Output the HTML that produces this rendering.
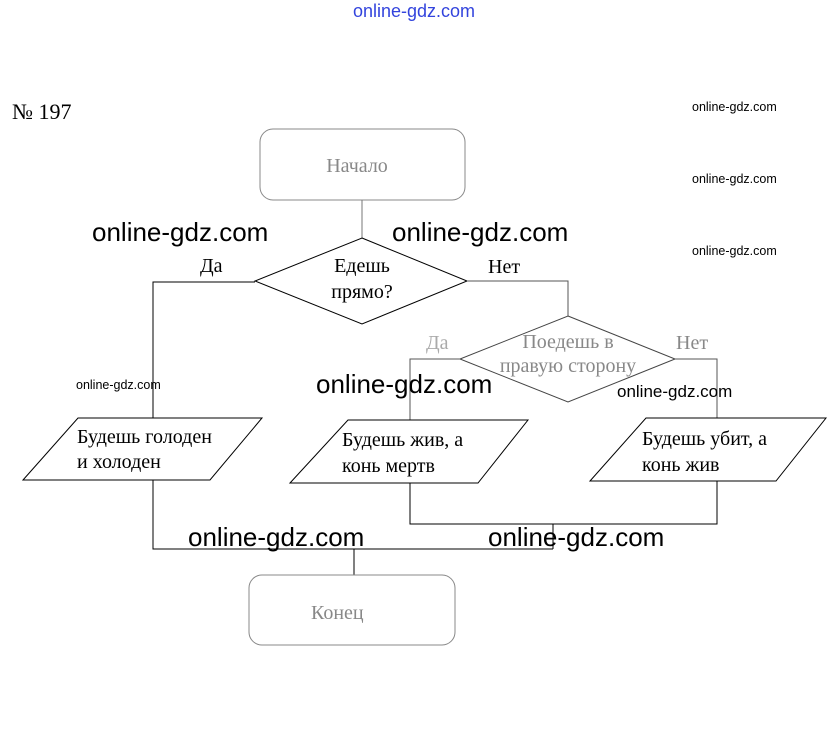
<!DOCTYPE html>
<html><head><meta charset="utf-8"><style>
html,body{margin:0;padding:0;background:#fff;width:829px;height:749px;overflow:hidden}
</style></head><body>
<svg width="829" height="749" viewBox="0 0 829 749" xmlns="http://www.w3.org/2000/svg">
<g fill="none" stroke="#000" stroke-width="1">
<rect x="260" y="129" width="205" height="71" rx="13" stroke="#888"/>
<line x1="362" y1="200" x2="362" y2="238" stroke="#777"/>
<polygon points="362,238 467,281 362,324 255,281"/>
<polyline points="255,282 153,282 153,418"/>
<polyline points="467,281 568,281 568,316" stroke="#555"/>
<polygon points="568,316 675,359 568,402 460,359" stroke="#444"/>
<polyline points="460,359 410,359 410,420" stroke="#555"/>
<polyline points="675,359 717,359 717,418" stroke="#555"/>
<polygon points="23,480 78,418 262,418 210,480"/>
<polygon points="290,483 348,420 528,420 478,483"/>
<polygon points="590,481 646,418 826,418 776,481"/>
<polyline points="153,480 153,549 553,549"/>
<line x1="354" y1="549" x2="354" y2="575"/>
<polyline points="410,483 410,524 717,524 717,481"/>
<line x1="553" y1="524" x2="553" y2="549"/>
<rect x="249" y="575" width="206" height="70" rx="13" stroke="#888"/>
</g>
<g font-family="Liberation Serif, serif" font-size="20" fill="#000">
<text x="12" y="119" font-size="22">№ 197</text>
<text x="357" y="172" text-anchor="middle" fill="#888">Начало</text>
<text x="362" y="272" text-anchor="middle">Едешь</text>
<text x="362" y="298" text-anchor="middle">прямо?</text>
<text x="200" y="272">Да</text>
<text x="488" y="273">Нет</text>
<text x="568" y="348" text-anchor="middle" fill="#888">Поедешь в</text>
<text x="568" y="372" text-anchor="middle" fill="#888">правую сторону</text>
<text x="426" y="349" fill="#aaa">Да</text>
<text x="676" y="349" fill="#888">Нет</text>
<text x="77" y="443">Будешь голоден</text>
<text x="77" y="468">и холоден</text>
<text x="342" y="446">Будешь жив, а</text>
<text x="342" y="472">конь мертв</text>
<text x="642" y="445">Будешь убит, а</text>
<text x="642" y="471">конь жив</text>
<text x="311" y="619" fill="#888">Конец</text>
</g>
<g font-family="Liberation Sans, sans-serif" fill="#000">
<text x="414" y="17" font-size="18" fill="#3344dd" text-anchor="middle">online-gdz.com</text>
<g font-size="26">
<text x="92" y="241">online-gdz.com</text>
<text x="392" y="241">online-gdz.com</text>
<text x="316" y="393">online-gdz.com</text>
<text x="188" y="546">online-gdz.com</text>
<text x="488" y="546">online-gdz.com</text>
</g>
<g font-size="12.5">
<text x="692" y="111">online-gdz.com</text>
<text x="692" y="183">online-gdz.com</text>
<text x="692" y="255">online-gdz.com</text>
<text x="76" y="389">online-gdz.com</text>
</g>
<text x="617" y="397" font-size="17">online-gdz.com</text>
</g>
</svg>
</body></html>
